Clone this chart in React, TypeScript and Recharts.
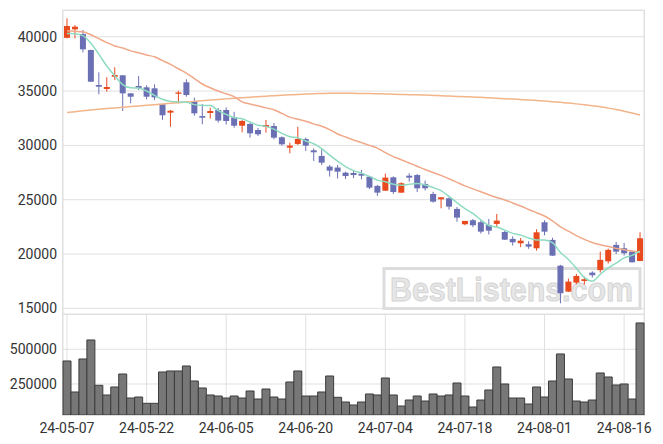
import {
  ComposedChart, BarChart, Bar, Line, XAxis, YAxis, CartesianGrid,
} from 'recharts'

// ─── Data ─────────────────────────────────────────────────────────────────────

const dates = [
  '24-05-07', '24-05-08', '24-05-09', '24-05-10', '24-05-13', '24-05-14', '24-05-16', '24-05-17', '24-05-20', '24-05-21',
  '24-05-22', '24-05-23', '24-05-24', '24-05-27', '24-05-28', '24-05-29', '24-05-30', '24-05-31', '24-06-03', '24-06-04',
  '24-06-05', '24-06-07', '24-06-10', '24-06-11', '24-06-12', '24-06-13', '24-06-14', '24-06-17', '24-06-18', '24-06-19',
  '24-06-20', '24-06-21', '24-06-24', '24-06-25', '24-06-26', '24-06-27', '24-06-28', '24-07-01', '24-07-02', '24-07-03',
  '24-07-04', '24-07-05', '24-07-08', '24-07-09', '24-07-10', '24-07-11', '24-07-12', '24-07-15', '24-07-16', '24-07-17',
  '24-07-18', '24-07-19', '24-07-22', '24-07-23', '24-07-24', '24-07-25', '24-07-26', '24-07-29', '24-07-30', '24-07-31',
  '24-08-01', '24-08-02', '24-08-05', '24-08-06', '24-08-07', '24-08-08', '24-08-09', '24-08-12', '24-08-13', '24-08-14',
  '24-08-16', '24-08-19', '24-08-20',
]

const opens = [
  39900, 40680, 40250, 38780, 35555, 35190, 36320, 36450, 34790, 35465,
  35345, 35250, 33780, 33010, 34750, 35805, 34085, 32700, 32980, 33255,
  33255, 32585, 31810, 31970, 31415, 31690, 31785, 30745, 29790, 30130,
  30590, 29545, 29025, 28050, 27960, 27490, 27460, 27395, 27120, 26270,
  25830, 27060, 25650, 27210, 27270, 26450, 25530, 25040, 25130, 24150,
  22740, 23110, 22925, 22680, 22770, 22030, 21390, 20990, 20900, 20530,
  22925, 21300, 18930, 16540, 17370, 17520, 18290, 18520, 19330, 20840,
  20530, 20220, 19360,
]

const closes = [
  40985, 40920, 38840, 35860, 35400, 35370, 36475, 34790, 34480, 35280,
  34480, 34420, 32770, 33190, 34870, 34635, 32950, 32550, 33165, 32280,
  32245, 31810, 32245, 31110, 31020, 31875, 30710, 30100, 29975, 30590,
  29975, 29365, 28410, 27675, 27580, 27180, 27270, 27210, 26110, 25650,
  27030, 25710, 26515, 27030, 26050, 26050, 24820, 25220, 24360, 23350,
  23045, 22650, 22060, 22150, 23075, 21320, 21080, 21230, 20680, 22000,
  22060, 19850, 16390, 17460, 17980, 17680, 18050, 19460, 20380, 20220,
  20070, 19240, 21450,
]

const highs = [
  41690, 41080, 40620, 38800, 36725, 36265, 37185, 36450, 34790, 36380,
  35530, 35620, 33780, 33255, 35030, 36080, 34400, 33810, 33470, 33440,
  33500, 33090, 32335, 32060, 31600, 32335, 32060, 30835, 30250, 31720,
  30710, 29730, 29640, 28200, 28200, 27580, 27640, 27730, 27180, 26360,
  27400, 27150, 26600, 27430, 27360, 26760, 25730, 25220, 25220, 24330,
  23045, 23230, 23110, 23230, 23690, 22120, 21630, 21480, 21170, 22280,
  23110, 21500, 19000, 17740, 18170, 17920, 18420, 20220, 20500, 21110,
  21020, 20220, 22000,
]

const lows = [
  39850, 39850, 38560, 35860, 34700, 34940, 36015, 33165, 33870, 35100,
  34240, 34180, 32340, 31720, 33870, 34480, 32725, 31940, 32460, 32100,
  31920, 31625, 31205, 30710, 30865, 31170, 30565, 29975, 29270, 30035,
  29485, 28565, 28200, 27130, 26950, 26900, 26990, 26870, 25980, 25350,
  25800, 25530, 25620, 26660, 25700, 25850, 24730, 24210, 24090, 22970,
  22650, 22470, 21890, 21800, 22500, 21300, 20780, 20630, 20480, 20310,
  21720, 19830, 15470, 16500, 17220, 17190, 17830, 18290, 19130, 19990,
  19860, 19220, 19340,
]

const volumes = [
  415700, 192400, 430100, 567000, 240600, 170800, 228400, 322000, 149100, 156300,
  110900, 110900, 336500, 343700, 343700, 379700, 271600, 221200, 170800, 163500,
  149100, 163500, 149100, 199600, 141900, 214000, 156300, 141900, 264400, 343700,
  163500, 163500, 192400, 307600, 154200, 120300, 98700, 120300, 178000, 170800,
  293200, 170800, 91500, 134700, 163500, 127500, 178000, 163500, 170800, 257200,
  163500, 84300, 134700, 206800, 372500, 250000, 149100, 149100, 105900, 228400,
  156300, 271600, 466200, 286000, 127500, 120300, 134700, 329300, 300400, 242800,
  250000, 141900, 689500,
]

const ma5 = [
  40300, 40280, 40100, 39400, 38400, 37300, 36400, 35600, 35300, 35270,
  35000, 34600, 34250, 34050, 34000, 33980, 33750, 33680, 33680, 33200,
  32850, 32550, 32450, 32150, 31850, 31750, 31500, 31100, 30800, 30700,
  30400, 30150, 29700, 29100, 28550, 28050, 27680, 27450, 27150, 26800,
  26650, 26420, 26320, 26420, 26480, 26350, 26120, 25830, 25300, 24720,
  24180, 23740, 23150, 22620, 22480, 22200, 21900, 21740, 21480, 21300,
  21300, 21050, 20150, 19500, 18700, 17850, 17500, 18130, 18720, 19170,
  19640, 19880, 20270,
]

const ma20 = [
  40540, 40500, 40450, 40180, 39820, 39460, 39150, 38960, 38700, 38520,
  38320, 38150, 37800, 37460, 37050, 36650, 36150, 35650, 35300, 35000,
  34750, 34480, 34000, 33800, 33640, 33450, 33280, 32950, 32600, 32400,
  32220, 31980, 31760, 31450, 31050, 30770, 30500, 30250, 30000, 29750,
  29330, 28970, 28680, 28380, 28080, 27780, 27500, 27240, 26930, 26600,
  26270, 26000, 25730, 25450, 25200, 24980, 24700, 24420, 24100, 23800,
  23500, 23050, 22500, 22100, 21700, 21350, 21060, 20850, 20700, 20520,
  20400, 20270, 20150,
]

const ma120 = [
  33030, 33100, 33180, 33260, 33330, 33390, 33450, 33510, 33570, 33630,
  33690, 33750, 33810, 33870, 33930, 33990, 34050, 34110, 34170, 34220,
  34280, 34330, 34380, 34430, 34480, 34530, 34570, 34610, 34650, 34690,
  34720, 34750, 34770, 34790, 34800, 34800, 34790, 34780, 34770, 34750,
  34730, 34710, 34690, 34670, 34650, 34630, 34600, 34570, 34540, 34510,
  34480, 34450, 34420, 34380, 34340, 34300, 34260, 34220, 34180, 34130,
  34080, 34020, 33960, 33890, 33820, 33740, 33650, 33550, 33430, 33300,
  33150, 32980, 32800,
]

const priceTicks = [15000, 20000, 25000, 30000, 35000, 40000]
const volumeTicks = [250000, 500000]

const rows = dates.map((date, i) => ({
  date,
  open: opens[i],
  close: closes[i],
  high: highs[i],
  low: lows[i],
  volume: volumes[i],
  ma5: ma5[i],
  ma20: ma20[i],
  ma120: ma120[i],
}))

// ─── Config ───────────────────────────────────────────────────────────────────

const UP = '#e8491d'
const DOWN = '#6b70b5'
const GRID = '#e0e0e0'
const TICK = { fill: '#333', fontSize: 14 }
const MARGIN = { left: 8, right: 19 }

// ─── Candle shape ─────────────────────────────────────────────────────────────

// eslint-disable-next-line @typescript-eslint/no-explicit-any
function Candle(props: any) {
  const { x, y, width, height, payload } = props
  const { open, close, high, low } = payload
  const top = Math.min(y, y + height)
  const span = Math.abs(height)
  const k = span / (high - low)
  const py = (v: number) => top + (high - v) * k
  const cx = x + width / 2
  const color = close >= open ? UP : DOWN
  const bTop = py(Math.max(open, close))
  const bH = Math.max(1, Math.abs(py(open) - py(close)))
  const bw = 6
  return (
    <g>
      <line x1={cx} x2={cx} y1={top} y2={top + span} stroke={color} strokeWidth={1} />
      <rect x={cx - bw / 2} y={bTop} width={bw} height={bH} fill={color} />
    </g>
  )
}

// ─── Component ────────────────────────────────────────────────────────────────

export default function App() {
  return (
    <div style={{
      position: 'absolute', left: 0, top: 0, width: 663, height: 444,
      background: '#fff', fontFamily: 'Roboto, sans-serif',
    }}>
      {/* watermark, drawn behind the chart */}
      <svg width={663} height={444} style={{ position: 'absolute', left: 0, top: 0 }}>
        <rect x={384} y={268.5} width={256} height={40} fill="none" stroke="#dcdcdc" strokeWidth={3} />
        <text
          x={390} y={301} textLength={243} lengthAdjust="spacingAndGlyphs"
          fontFamily="'Liberation Sans', Arial, sans-serif" fontWeight="bold" fontSize={34}
          fill="#e6e6e6" stroke="#d4d4d4" strokeWidth={1}
        >BestListens.com</text>
      </svg>

      {/* plot borders */}
      <div style={{ position: 'absolute', left: 62, top: 10, width: 583, height: 305, boxSizing: 'border-box', border: `1px solid ${GRID}` }} />
      <div style={{ position: 'absolute', left: 62, top: 314, width: 583, height: 102, boxSizing: 'border-box', border: `1px solid ${GRID}` }} />

      {/* volume */}
      <div style={{ position: 'absolute', left: 0, top: 314 }}>
        <BarChart width={663} height={130} data={rows} barCategoryGap={0}
          margin={{ top: 0, right: MARGIN.right, bottom: 0, left: MARGIN.left }}>
          <CartesianGrid stroke={GRID} />
          <XAxis dataKey="date" interval={9} height={29} tick={TICK} axisLine={false} tickLine={false} />
          <YAxis
            domain={[26700, 754000]} allowDataOverflow ticks={volumeTicks} interval={0} width={55}
            tick={TICK} axisLine={false} tickLine={false} tickSize={4} tickMargin={2}
          />
          <Bar dataKey="volume" fill="#777" stroke="#3c3c3c" strokeWidth={1} isAnimationActive={false} />
        </BarChart>
      </div>

      {/* price */}
      <div style={{ position: 'absolute', left: 0, top: 0 }}>
        <ComposedChart width={663} height={322} data={rows} barCategoryGap={0}
          margin={{ top: 10, right: MARGIN.right, bottom: 8, left: MARGIN.left }}>
          <CartesianGrid stroke={GRID} />
          <XAxis dataKey="date" interval={9} height={0} tick={false} axisLine={false} tickLine={false} />
          <YAxis
            domain={[14480, 42460]} allowDataOverflow ticks={priceTicks} interval={0} width={55}
            tick={TICK} axisLine={false} tickLine={false} tickSize={4} tickMargin={2}
          />
          <Bar dataKey={(d: { low: number; high: number }) => [d.low, d.high]} shape={Candle} isAnimationActive={false} />
          <Line type="monotone" dataKey="ma120" stroke="#f2b58a" strokeWidth={1.5} dot={false} isAnimationActive={false} />
          <Line type="monotone" dataKey="ma20" stroke="#f0a888" strokeWidth={1.5} dot={false} isAnimationActive={false} />
          <Line type="monotone" dataKey="ma5" stroke="#8edbc2" strokeWidth={1.5} dot={false} isAnimationActive={false} />
        </ComposedChart>
      </div>
    </div>
  )
}
